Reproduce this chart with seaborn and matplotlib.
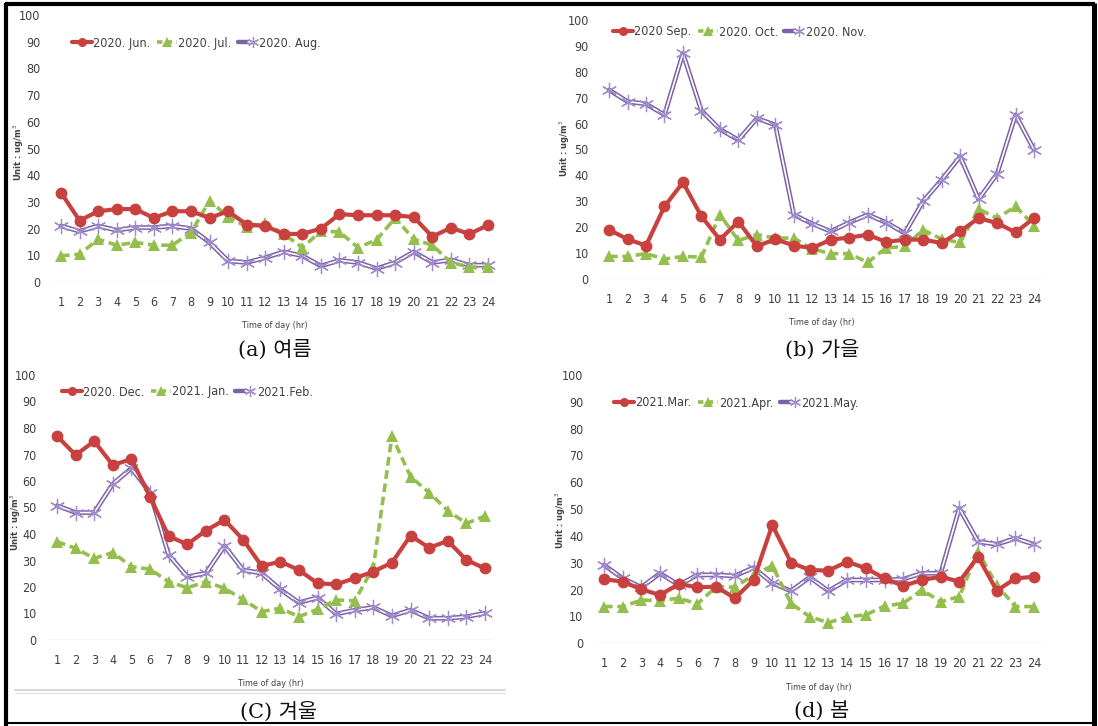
import numpy as np
import pandas as pd
import matplotlib
matplotlib.use("Agg")
import matplotlib.pyplot as plt
from matplotlib.lines import Line2D
from matplotlib.legend_handler import HandlerTuple
from matplotlib import font_manager
import seaborn as sns

# ---------------- data ----------------
hours = list(range(1, 25))

jun20 = [33.5, 23, 26.5, 27.3, 27.3, 24, 26.5, 26.5, 24, 26.5, 21.5, 21, 18, 18, 20, 25.4, 25, 25, 25, 24.3, 17, 20.3, 18, 21.3]
jul20 = [9.8, 10.4, 16, 13.8, 14.8, 13.8, 13.8, 18.5, 30.4, 24.5, 20.6, 22, 18, 12.9, 19, 18.8, 12.9, 15.8, 24, 16, 13.8, 7.3, 5.6, 5.6]
aug20 = [21, 19, 21, 19.4, 20.4, 20.4, 21, 20, 14.8, 7.9, 7.3, 9.1, 11.3, 9.8, 6, 8.1, 7.3, 5, 7.3, 11.3, 7.3, 8.3, 6.3, 6.3]

sep20 = [19, 15.4, 12.9, 28, 37.3, 24.2, 15.2, 22.2, 12.6, 15.4, 12.9, 12, 15.2, 16, 17.1, 14.3, 15.2, 15.2, 13.9, 18.4, 23.5, 21.6, 18, 23.5]
oct20 = [8.7, 8.7, 9.8, 7.7, 8.7, 8.5, 24.8, 14.9, 17.1, 15.8, 15.8, 11.6, 9.8, 9.8, 6.4, 12, 12.6, 19, 15.4, 14.1, 27, 23.5, 28, 20.6]
nov20 = [73, 68.5, 67.6, 63.4, 87.1, 65, 57.8, 53.7, 62, 59.5, 24.8, 21.3, 18.4, 21.8, 24.8, 21.8, 17.7, 30, 38.3, 47.3, 30.8, 40.6, 63.4, 49.9]

dec20 = [77, 69.8, 75, 66, 68.3, 54, 39.2, 36.1, 41.3, 45.3, 37.9, 27.9, 29.6, 26.4, 21.4, 21, 23.3, 25.8, 29.2, 39.4, 34.8, 37.4, 30.2, 27]
jan21 = [37.1, 34.6, 30.8, 33, 27.7, 26.7, 22, 19.7, 22, 19.5, 15.3, 10.7, 12, 8.8, 11.6, 15.1, 14.8, 27.4, 77, 61.6, 55.6, 48.8, 44, 46.8]
feb21 = [50.7, 48.1, 48.1, 58.9, 64.8, 55.6, 32.1, 23.9, 25.2, 35.5, 26.4, 25.2, 19.1, 14.1, 16, 9.8, 11.3, 12.3, 9.1, 11.3, 8.2, 8.2, 8.8, 10.1]

mar21 = [23.9, 23, 20.1, 18, 22.1, 20.9, 21.1, 16.8, 23.6, 44.1, 30.1, 27.3, 27.1, 30.4, 28, 24.2, 21.4, 23.6, 24.8, 23, 32.3, 19.6, 24.2, 24.8]
apr21 = [13.7, 13.7, 16.1, 15.9, 16.8, 14.7, 21.1, 20.9, 25.5, 28.9, 14.9, 9.9, 7.7, 9.9, 10.6, 13.9, 14.9, 19.9, 15.5, 17.4, 34.2, 21.7, 13.7, 13.7]
may21 = [29.2, 24.2, 20.9, 26.1, 21.7, 25.5, 25.5, 25.1, 28.2, 22.4, 19.5, 24.6, 19.5, 23.6, 23.6, 23.6, 23.9, 26.1, 26.1, 50.3, 37.9, 36.9, 39.1, 36.9]

panels = [
    ("(a) ", "여름", ["2020. Jun.", "2020. Jul.", "2020. Aug."], [jun20, jul20, aug20]),
    ("(b) ", "가을", ["2020 Sep.", "2020. Oct.", "2020. Nov."], [sep20, oct20, nov20]),
    ("(C) ", "겨울", ["2020. Dec.", "2021. Jan.", "2021.Feb."], [dec20, jan21, feb21]),
    ("(d) ", "봄", ["2021.Mar.", "2021.Apr.", "2021.May."], [mar21, apr21, may21]),
]
y_ticks = [0, 10, 20, 30, 40, 50, 60, 70, 80, 90, 100]

# ---------------- style ----------------
sns.set_theme(style="white")
avail = {f.name for f in font_manager.fontManager.ttflist}
narrow_fams = [f for f in ["Liberation Sans Narrow", "DejaVu Sans"] if f in avail] or ["DejaVu Sans"]
plt.rcParams["font.family"] = narrow_fams
plt.rcParams["font.stretch"] = "condensed"

RED = "#C9413F"
GREEN = "#94BF4E"
PURPLE = "#7D62A8"
PURPLE_M = "#A08CCB"
TXT = "#404040"

W, H = 1098, 726
fig = plt.figure(figsize=(W / 100, H / 100), dpi=100)

# axes rectangles in pixels: left, right, top, bottom
rects = [(51.7, 497.3, 15, 282), (599.8, 1043.3, 20, 279),
         (47.7, 494.3, 375, 640), (594.6, 1043.5, 375, 643.3)]
legend_pos = [(72, 43), (613, 32), (62, 392), (614, 403)]
captions = [(275, 350), (822, 350), (278, 712), (822, 712)]
ylab_pos = [(19, 152), (565, 148), (16, 522), (561, 520)]

for (pre, kor, names, series), (l, r, t, b), (lx, ly), (cx, cy), (yx, yy) in zip(
        panels, rects, legend_pos, captions, ylab_pos):
    ax = fig.add_axes([l / W, 1 - b / H, (r - l) / W, (b - t) / H])
    ax.set_facecolor("white")
    df = pd.DataFrame({"hour": hours, "a": series[0], "b": series[1], "c": series[2]})

    # purple double line with asterisk markers
    sns.lineplot(data=df, x="hour", y="c", ax=ax, color=PURPLE, lw=3.4, zorder=3)
    sns.lineplot(data=df, x="hour", y="c", ax=ax, color="white", lw=1.2, zorder=4)
    sns.lineplot(data=df, x="hour", y="c", ax=ax, color=PURPLE_M, lw=0, marker=(6, 2, 0),
                 markersize=11, markeredgewidth=0.9, markeredgecolor=PURPLE_M, zorder=5)
    # green dashed with triangles
    sns.lineplot(data=df, x="hour", y="b", ax=ax, color=GREEN, lw=2.6, marker="^",
                 markersize=8, markeredgewidth=0, dashes=False, zorder=6)
    ax.lines[-1].set_linestyle((0, (2.4, 1.3)))
    # red solid with circles
    sns.lineplot(data=df, x="hour", y="a", ax=ax, color=RED, lw=3.0, marker="o",
                 markersize=8.5, markeredgewidth=0, zorder=7)

    ax.set_xlim(0.5, 24.5)
    ax.set_ylim(0, 100)
    ax.set_xticks(hours)
    ax.set_yticks(y_ticks)
    ax.tick_params(axis="x", length=0, pad=10, labelsize=9, colors=TXT)
    ax.tick_params(axis="y", length=0, pad=8, labelsize=9, colors=TXT)
    for s in ax.spines.values():
        s.set_visible(False)
    ax.axhline(0, color="#D9D9D9", lw=1.0, zorder=1)
    ax.grid(False)
    ax.set_xlabel("Time of day (hr)", fontsize=6.5, color=TXT, labelpad=9)
    ax.set_ylabel("")
    fig.text(yx / W, 1 - yy / H, "Unit : ug/m$^3$", rotation=90, ha="center", va="center",
             fontsize=6.0, color=TXT, fontweight="bold", family=["DejaVu Sans"],
             fontstretch="normal")

    h_red = Line2D([], [], color=RED, lw=3.0, marker="o", markersize=6.5, markeredgewidth=0)
    h_green = Line2D([], [], color=GREEN, lw=2.6, marker="^", markersize=6.5,
                     markeredgewidth=0, linestyle=(0, (1.5, 1.2)))
    h_p1 = Line2D([], [], color=PURPLE, lw=3.2)
    h_p2 = Line2D([], [], color="white", lw=1.1, marker=(6, 2, 0), markersize=8,
                  markeredgecolor=PURPLE_M, markeredgewidth=0.9)
    leg = ax.legend([h_red, h_green, (h_p1, h_p2)], names,
                    handler_map={tuple: HandlerTuple(ndivide=None)},
                    loc="center left", bbox_to_anchor=(lx / W, 1 - ly / H),
                    bbox_transform=fig.transFigure, ncol=3, frameon=False,
                    fontsize=9, handlelength=1.6, handletextpad=0.1,
                    columnspacing=0.5, borderaxespad=0, borderpad=0)
    for txt in leg.get_texts():
        txt.set_color(TXT)

    fig.text(cx / W, 1 - cy / H, pre + kor, ha="center", va="center", fontsize=15,
             color="#111111", family=["DejaVu Serif", "Noto Sans CJK KR"],
             fontstretch="normal")

# light gray separator line under panel (c)
fig.add_artist(Line2D([15 / W, 505 / W], [1 - 690 / H, 1 - 690 / H],
                      transform=fig.transFigure, color="#D0D0D0", lw=1.2))
fig.add_artist(Line2D([15 / W, 505 / W], [1 - 693 / H, 1 - 693 / H],
                      transform=fig.transFigure, color="#E4E4E4", lw=1.0))

# outer black frame
frame_kw = dict(transform=fig.transFigure, color="black", solid_capstyle="butt")
fig.add_artist(Line2D([5 / W, 1095 / W], [1 - 4 / H, 1 - 4 / H], lw=3, **frame_kw))
fig.add_artist(Line2D([6 / W, 6 / W], [0, 1 - 3 / H], lw=3, **frame_kw))
fig.add_artist(Line2D([1094 / W, 1094 / W], [0, 1 - 3 / H], lw=3.6, **frame_kw))
fig.add_artist(Line2D([5 / W, 1094 / W], [1 - 723 / H, 1 - 723 / H], lw=1.5, **frame_kw))

fig.savefig("out.png", dpi=100, facecolor="white")
